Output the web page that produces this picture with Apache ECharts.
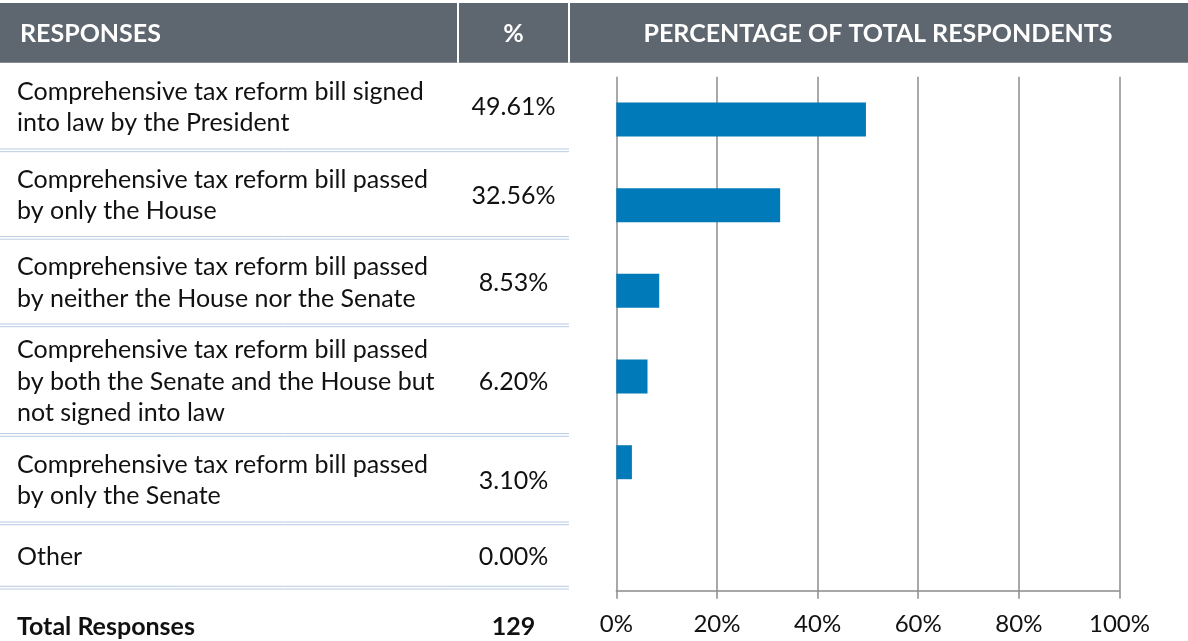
<!DOCTYPE html>
<html>
<head>
<meta charset="utf-8">
<script src="https://cdn.jsdelivr.net/npm/echarts@6/dist/echarts.min.js"></script>
<style>
  html, body { margin: 0; padding: 0; background: #fff; }
  #chart { width: 1188px; height: 641px; }
</style>
</head>
<body>
<div id="chart"></div>
<script>
// survey answers (line breaks as in the table column)
const responses = [
  'Comprehensive tax reform bill signed\ninto law by the President',
  'Comprehensive tax reform bill passed\nby only the House',
  'Comprehensive tax reform bill passed\nby neither the House nor the Senate',
  'Comprehensive tax reform bill passed\nby both the Senate and the House but\nnot signed into law',
  'Comprehensive tax reform bill passed\nby only the Senate',
  'Other'
]
const percents = [49.61, 32.56, 8.53, 6.20, 3.10, 0.00]
const totalResponses = 129
const headers = ['RESPONSES', '%', 'PERCENTAGE OF TOTAL RESPONDENTS']
const xTicks = [0, 20, 40, 60, 80, 100]

// table layout (px)
const headerTop = 3, headerBottom = 62.7
const colSep = [458, 569]
const sepY = [150, 237.5, 325, 434.6, 523, 587.3]   // double rule under each row
const totalY = 627

const FONT = 'Lato, "Open Sans", sans-serif'
const textColor = '#111'
const ruleColor = '#b8cce4'
const gridColor = '#8c8c8c'

const chart = echarts.init(document.getElementById('chart'), null, { renderer: 'canvas' })

const graphic = []
// header band
graphic.push({ type: 'rect', shape: { x: 0, y: headerTop, width: 1188, height: headerBottom - headerTop },
  style: { fill: '#5e6670' }, z: 1 })
colSep.forEach((x) => {
  graphic.push({ type: 'rect', shape: { x: x - 1, y: headerTop, width: 2, height: headerBottom - headerTop },
    style: { fill: '#fff' }, z: 2 })
})
const headY = (headerTop + headerBottom) / 2 + 1
const headFont = 'bold 25px ' + FONT
graphic.push({ type: 'text', x: 20, y: headY, z: 3,
  style: { text: headers[0], fill: '#fff', font: headFont, textVerticalAlign: 'middle' } })
graphic.push({ type: 'text', x: (colSep[0] + colSep[1]) / 2, y: headY, z: 3,
  style: { text: headers[1], fill: '#fff', font: headFont, textAlign: 'center', textVerticalAlign: 'middle' } })
graphic.push({ type: 'text', x: 878, y: headY, z: 3,
  style: { text: headers[2], fill: '#fff', font: headFont, textAlign: 'center', textVerticalAlign: 'middle' } })

// rows
const cellFont = '25px ' + FONT
let prev = headerBottom
responses.forEach((r, i) => {
  const cy = (prev + sepY[i]) / 2 + 1
  graphic.push({ type: 'text', x: 17, y: cy, z: 3,
    style: { text: r, fill: textColor, font: cellFont, lineHeight: 31.5, textVerticalAlign: 'middle' } })
  graphic.push({ type: 'text', x: (colSep[0] + colSep[1]) / 2, y: cy, z: 3,
    style: { text: percents[i].toFixed(2) + '%', fill: textColor, font: cellFont,
      textAlign: 'center', textVerticalAlign: 'middle' } })
  ;[0, 2.7].forEach((d) => {
    graphic.push({ type: 'line', z: 2,
      shape: { x1: 0, y1: sepY[i] - 1 + d, x2: colSep[1], y2: sepY[i] - 1 + d },
      style: { stroke: ruleColor, lineWidth: 1 } })
  })
  prev = sepY[i] + 1.5
})
graphic.push({ type: 'text', x: 17, y: totalY, z: 3,
  style: { text: 'Total Responses', fill: textColor, font: 'bold ' + cellFont, textVerticalAlign: 'middle' } })
graphic.push({ type: 'text', x: (colSep[0] + colSep[1]) / 2, y: totalY, z: 3,
  style: { text: String(totalResponses), fill: textColor, font: 'bold ' + cellFont,
    textAlign: 'center', textVerticalAlign: 'middle' } })

chart.setOption({
  animation: false,
  backgroundColor: '#fff',
  grid: { left: 616.3, right: 68.5, top: 76.7, bottom: 50.3, containLabel: false, outerBoundsMode: 'none' },
  xAxis: {
    type: 'value', min: xTicks[0], max: xTicks[xTicks.length - 1], interval: 20,
    axisLine: { show: true, lineStyle: { color: gridColor, width: 1.5 } },
    axisTick: { show: true, length: 8, lineStyle: { color: gridColor, width: 1.5 } },
    splitLine: { show: true, lineStyle: { color: gridColor, width: 1.5 } },
    axisLabel: { formatter: '{value}%', color: textColor, fontFamily: FONT, fontSize: 24, margin: 22 }
  },
  yAxis: {
    type: 'category', inverse: true, data: responses,
    axisLine: { show: false }, axisTick: { show: false }, axisLabel: { show: false }, splitLine: { show: false }
  },
  series: [{
    type: 'bar', data: percents, barWidth: 34,
    itemStyle: { color: '#007ab9' }
  }],
  graphic
})
</script>
</body>
</html>
